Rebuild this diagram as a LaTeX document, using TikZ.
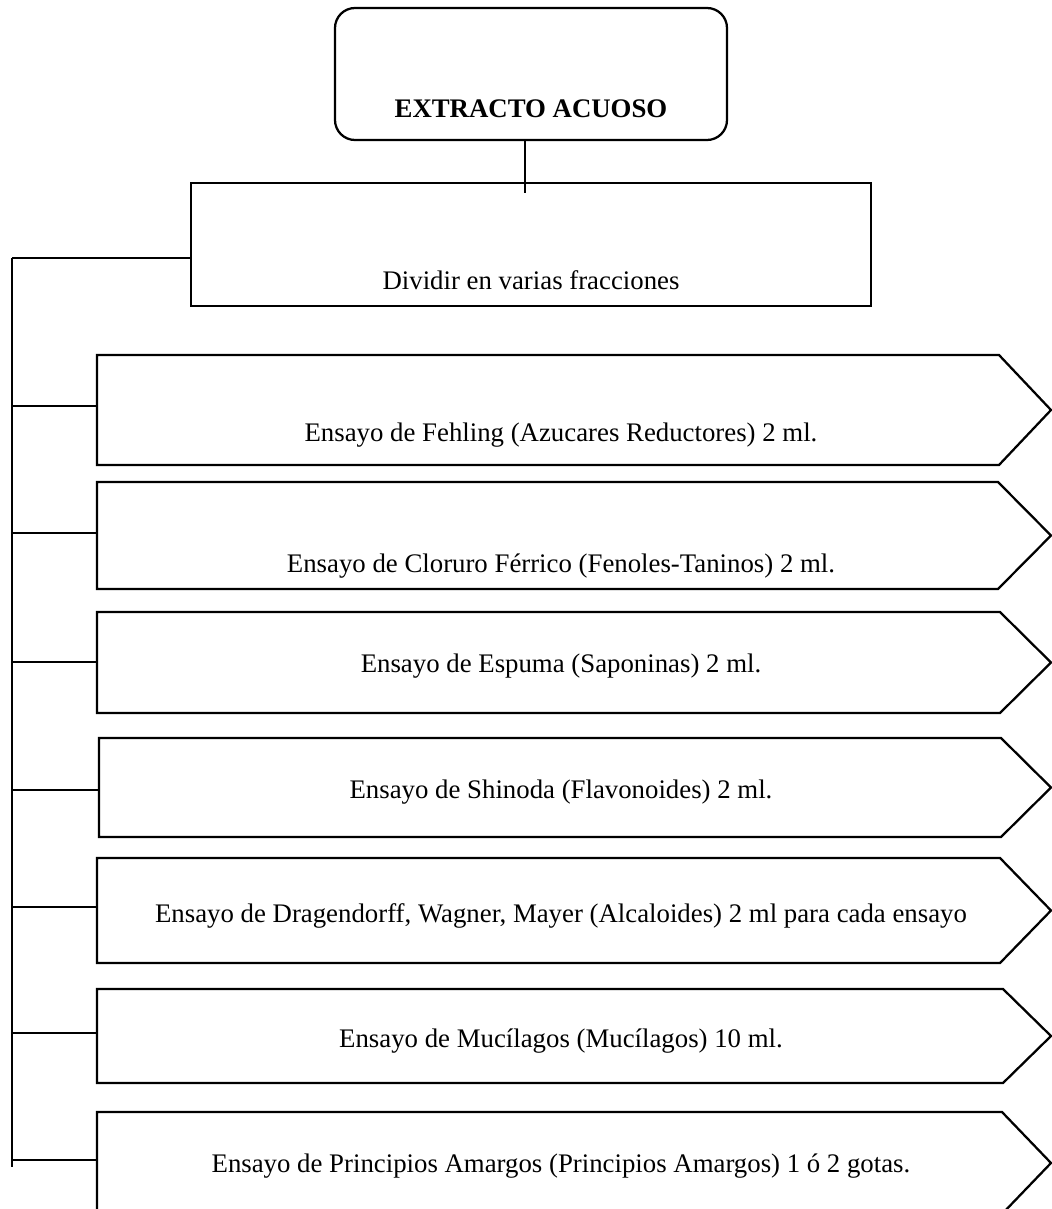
\documentclass[tikz,border=0pt]{standalone}
\usepackage{fontspec}
\setmainfont{Liberation Serif}
\usetikzlibrary{calc}
\tikzset{
  ln/.style={line width=1.7pt, line join=miter},
  lbl/.style={anchor=base, inner sep=0pt, font=\fontsize{20.1}{24}\selectfont},
}
% name, x1, x2, y1, y2, connector y, baseline y, text
\newcommand\ensayobox[8]{%
  \draw[ln] (#2,#4) -- (#3,#4) -- (1051,{(#4+#5)/2}) -- (#3,#5) -- (#2,#5) -- cycle;
  \coordinate (#1) at (#2,#6);
  \node[lbl] (#1t) at (561,#7) {#8};
}
\begin{document}
\begin{tikzpicture}[x=0.75pt,y=-0.75pt]
\useasboundingbox (0,0) rectangle (1051,1209);
% top box
\node[ln, draw, rounded corners=15pt, minimum width=294pt, minimum height=99pt, inner sep=0pt] (top) at (531,74) {};
\node[lbl, font=\fontsize{20.1}{24}\selectfont\bfseries] (toptxt) at (531,118) {EXTRACTO ACUOSO};
% divide box
\node[ln, draw, minimum width=510pt, minimum height=92.25pt, inner sep=0pt] (div) at (531,244.5) {};
\node[lbl] (divtxt) at (531,289) {Dividir en varias fracciones};
\coordinate (topend) at (525,193);
\draw[ln] (top.south -| topend) -- (topend);
% spine
\coordinate (spinetop) at (12,258);
\coordinate (spinebot) at (12,1167);
\draw[ln] (spinetop) -- (spinebot);
\draw[ln] (spinetop) -- (spinetop -| div.west);
% test boxes
\ensayobox{b1}{97}{999}{355}{465}{406}{441}{Ensayo de Fehling (Azucares Reductores) 2 ml.}
\ensayobox{b2}{97}{998}{482}{589}{533}{572}{Ensayo de Cloruro Férrico (Fenoles-Taninos) 2 ml.}
\ensayobox{b3}{97}{1000}{612}{713}{662}{672}{Ensayo de Espuma (Saponinas) 2 ml.}
\ensayobox{b4}{99}{1001}{738}{837}{790}{798}{Ensayo de Shinoda (Flavonoides) 2 ml.}
\ensayobox{b5}{97}{1000}{858}{963}{907}{922}{Ensayo de Dragendorff, Wagner, Mayer (Alcaloides) 2 ml para cada ensayo}
\ensayobox{b6}{97}{1003}{989}{1083}{1033}{1047}{Ensayo de Mucílagos (Mucílagos) 10 ml.}
\ensayobox{b7}{97}{1002}{1112}{1214}{1160}{1172}{Ensayo de Principios Amargos (Principios Amargos) 1 ó 2 gotas.}
\foreach \b in {b1,b2,b3,b4,b5,b6,b7} {
  \draw[ln] (\b -| spinetop) -- (\b);
}
\end{tikzpicture}
\end{document}
